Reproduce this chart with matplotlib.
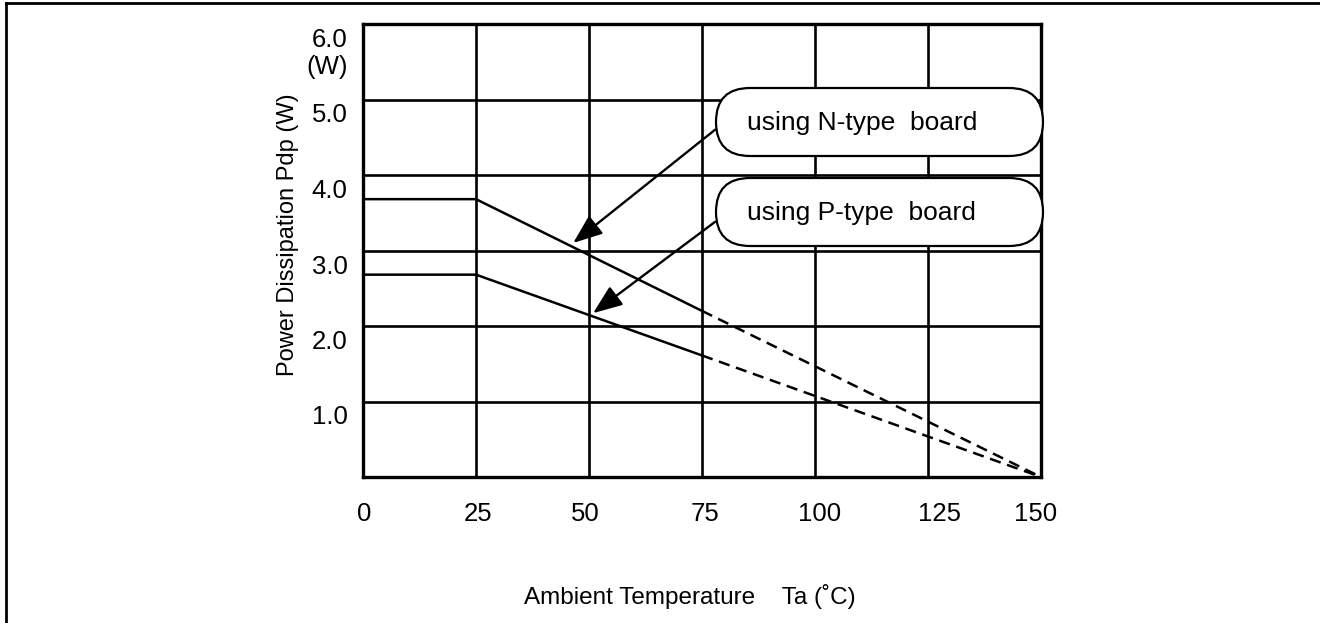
import matplotlib
matplotlib.use('Agg')
import matplotlib.pyplot as plt
import matplotlib.transforms as mtransforms
from matplotlib.patches import FancyBboxPatch
from matplotlib.lines import Line2D

# ---- data ----
temp_solid = [0, 25, 75]
temp_dash = [75, 150]
n_solid = [3.68, 3.68, 2.2]
n_dash = [2.2, 0.0]
p_solid = [2.68, 2.68, 1.61]
p_dash = [1.61, 0.0]
x_ticks = [0, 25, 50, 75, 100, 125, 150]
x_labels = ['0', '25', '50', '75', '100', '125', '150']
y_ticks = [1, 2, 3, 4, 5, 6]
y_labels = ['1.0', '2.0', '3.0', '4.0', '5.0', '6.0']
callouts = ['using N-type  board', 'using P-type  board']
arrow_tips = [(46.5, 3.10), (50.9, 2.17)]
arrow_tails = [(77.9, 4.60), (77.9, 3.38)]

plt.rcParams['font.family'] = ['Liberation Sans', 'DejaVu Sans']

W, H = 1320, 623
fig = plt.figure(figsize=(W / 100, H / 100), dpi=100)
ax = fig.add_axes([363 / W, 1 - 477 / H, (1041 - 363) / W, (477 - 24) / H])

ax.set_xlim(0, 150)
ax.set_ylim(0, 6)

lw_line = 1.8
ax.plot(temp_solid, n_solid, color='k', lw=lw_line, zorder=3)
ax.plot(temp_dash, n_dash, color='k', lw=lw_line, dashes=(4.5, 2.7), zorder=3)
ax.plot(temp_solid, p_solid, color='k', lw=lw_line, zorder=3)
ax.plot(temp_dash, p_dash, color='k', lw=lw_line, dashes=(4.5, 2.7), zorder=3)

ax.set_xticks(x_ticks)
ax.set_xticklabels(x_labels, fontsize=18.5)
ax.set_yticks(y_ticks)
ax.set_yticklabels(y_labels, fontsize=18.5)
ax.tick_params(axis='both', length=0)
ax.tick_params(axis='x', pad=18)
ax.tick_params(axis='y', pad=11)
ax.grid(True, color='k', lw=1.9)
ax.set_axisbelow(True)
for s in ax.spines.values():
    s.set_linewidth(2.4)

# shift y tick labels below their gridlines
off = mtransforms.ScaledTranslation(0, -0.135, fig.dpi_scale_trans)
for lab in ax.get_yticklabels():
    lab.set_transform(lab.get_transform() + off)
# small horizontal offsets of x tick labels as placed in the original
x_shift_px = [1, 2, -4, 3, 5, 11, -5]
for lab, dx in zip(ax.get_xticklabels(), x_shift_px):
    lab.set_transform(lab.get_transform() +
                      mtransforms.ScaledTranslation(dx / 100, 0, fig.dpi_scale_trans))

# unit under top label
fig.text(348 / W, 1 - 67 / H, '(W)', fontsize=18.5, ha='right', va='center')

ax.set_ylabel('Power Dissipation Pdp (W)', fontsize=17, va='center')
ax.yaxis.set_label_coords(-0.111, 0.535)
ax.set_xlabel('Ambient Temperature    Ta (˚C)', fontsize=17.5, va='center')
ax.xaxis.set_label_coords(0.482, -0.263)

# arrows
for tip, tail in zip(arrow_tips, arrow_tails):
    ax.annotate('', xy=tip, xytext=tail,
                arrowprops=dict(arrowstyle='-|>,head_length=0.9,head_width=0.35',
                                mutation_scale=20, lw=1.7, color='k',
                                shrinkA=0, shrinkB=0), zorder=4)

# callout capsules (pixel coords, top-left origin)
boxes = [(716, 88, 1043, 156), (716, 178, 1043, 246)]
for (x0, y0, x1, y1), txt in zip(boxes, callouts):
    r = (y1 - y0) / 2
    patch = FancyBboxPatch((x0, H - y1), x1 - x0, y1 - y0,
                           boxstyle=f'round,pad=0,rounding_size={r}',
                           transform=mtransforms.IdentityTransform(),
                           facecolor='white', edgecolor='k', lw=1.6, zorder=5)
    fig.add_artist(patch)
    fig.text(747 / W, 1 - ((y0 + y1) / 2 + 1) / H, txt, fontsize=19,
             ha='left', va='center', zorder=6)

# figure frame (left and top)
fig.add_artist(Line2D([5.5 / W, 5.5 / W], [0, 1 - 3 / H], color='k', lw=2))
fig.add_artist(Line2D([5.5 / W, 1], [1 - 3 / H, 1 - 3 / H], color='k', lw=2))

fig.savefig('out.png', dpi=100)
